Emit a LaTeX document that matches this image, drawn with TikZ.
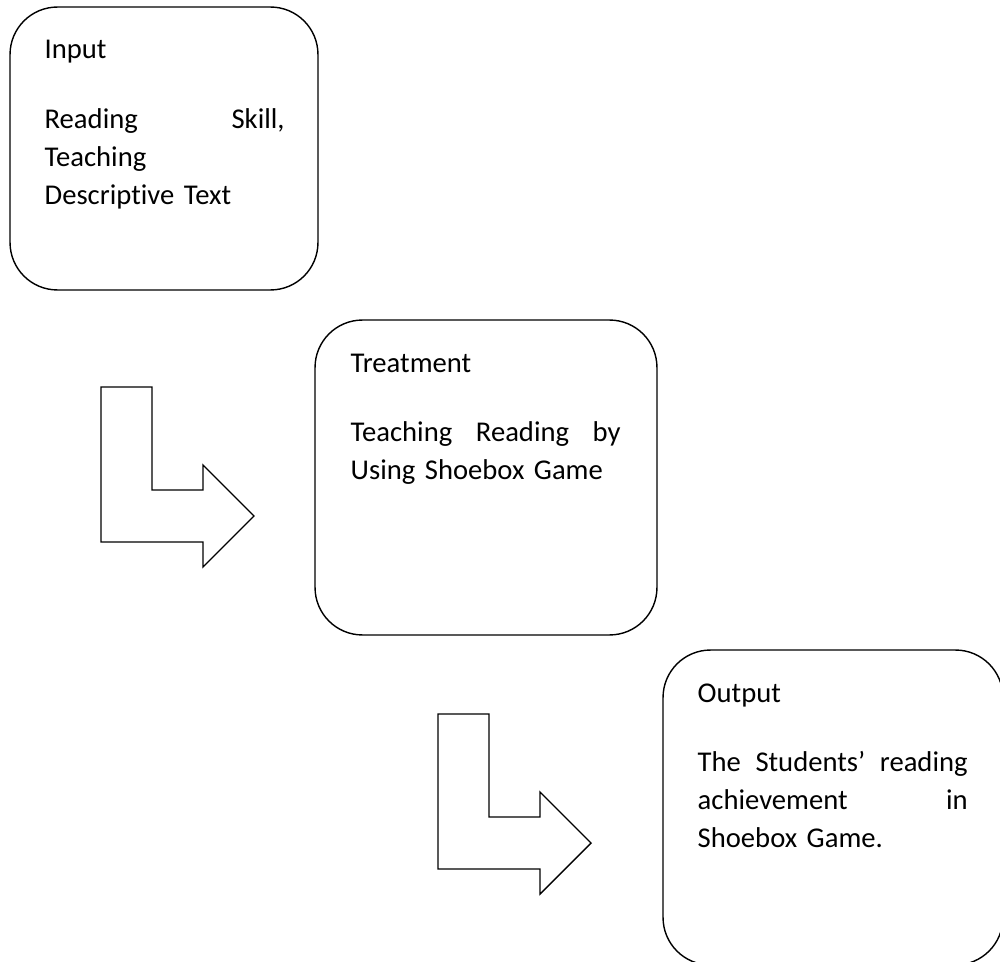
\documentclass[tikz,border=0pt]{standalone}
\usepackage{fontspec}
\setmainfont{Carlito}[Ligatures=NoCommon]

\begin{document}
\begin{tikzpicture}[x=0.02cm,y=-0.02cm,
    stage/.style={draw,line width=0.8pt,rounded corners=0.95cm,inner sep=0pt},
    heading/.style={anchor=base west,inner sep=0pt,font=\fontsize{16.3}{21.8}\selectfont},
    body/.style={heading,align=left},
    bentarrow/.style={line width=0.8pt,line join=miter}]
    \useasboundingbox (0,0) rectangle (1000,962);
    \clip (0,0) rectangle (1000,962);
    % input box
    \node[stage,minimum width=6.16cm,minimum height=5.66cm] (inbox) at (164,148.5) {};
    \node[heading] (intitle) at ([xshift=0.7cm,yshift=-1.04cm]inbox.north west) {Input};
    \node[body,text width=4.8cm] (inbody) at ([yshift=-1.4cm]intitle.base west)
        {Reading\hfill Skill,\\Teaching\\Descriptive Text};
    % treatment box
    \node[stage,minimum width=6.84cm,minimum height=6.3cm] (treatbox) at (486,477.5) {};
    \node[heading] (treattitle) at ([xshift=0.72cm,yshift=-1.06cm]treatbox.north west) {Treatment};
    \node[body,text width=5.4cm] (treatbody) at ([yshift=-1.38cm]treattitle.base west)
        {Teaching\hfill Reading\hfill by\\Using Shoebox Game};
    % output box (runs past the page edge)
    \node[stage,minimum width=6.8cm,minimum height=6.3cm] (outbox) at (833,807.5) {};
    \node[heading] (outtitle) at ([xshift=0.7cm,yshift=-1.06cm]outbox.north west) {Output};
    \node[body,text width=5.4cm] (outbody) at ([yshift=-1.38cm]outtitle.base west)
        {The\hfill Students’\hfill reading\\achievement\hfill in\\Shoebox Game.};
    % bent arrows
    \draw[bentarrow] (101,387) -- (152,387) -- (152,490) -- (203,490) -- (203,465)
        -- (254,516) -- (203,567) -- (203,542) -- (101,542) -- cycle;
    \draw[bentarrow,shift={(337,327)}] (101,387) -- (152,387) -- (152,490) -- (203,490) -- (203,465)
        -- (254,516) -- (203,567) -- (203,542) -- (101,542) -- cycle;
\end{tikzpicture}
\end{document}
